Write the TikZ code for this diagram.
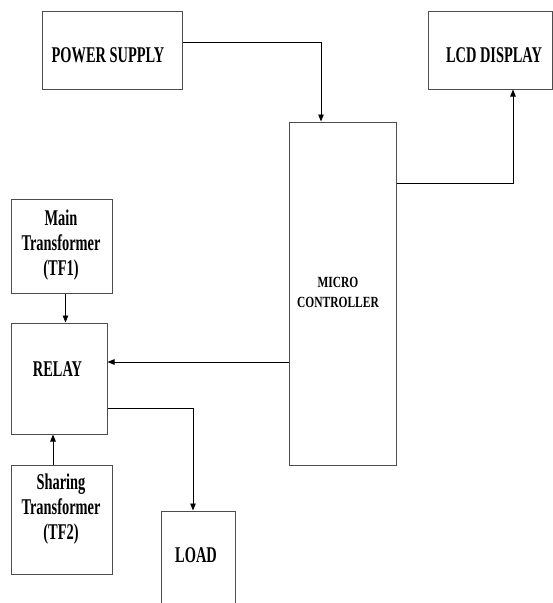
\documentclass[tikz,border=0pt]{standalone}
\usepackage{fontspec}
\usetikzlibrary{arrows.meta}
\newfontfamily\biglbl{Liberation Serif Bold}[FakeStretch=0.64]
\newfontfamily\smlbl{Liberation Serif Bold}[FakeStretch=0.74]
\begin{document}
\begin{tikzpicture}[x=1pt,y=-1pt,
  box/.style={draw=black!70,line width=1pt,rectangle,inner sep=0pt},
  lbl/.style={align=center,inner sep=0pt,font=\biglbl\fontsize{22.5}{25}\selectfont},
  slbl/.style={align=center,inner sep=0pt,font=\smlbl\fontsize{15.5}{20}\selectfont},
  arr/.style={draw=black,line width=0.9pt,-{Triangle[length=7pt,width=5.5pt]}},
  wire/.style={draw=black,line width=0.9pt}]
\useasboundingbox (0,0) rectangle (553,603);
\clip (0,0) rectangle (553,603);
\fill[white] (0,0) rectangle (553,603);
% boxes
\node[box,minimum width=140pt,minimum height=78pt] (ps) at (112,50) {};
\node[box,minimum width=124pt,minimum height=78pt] (lcd) at (490,50) {};
\node[box,minimum width=107pt,minimum height=343pt] (micro) at (342.5,293.5) {};
\node[box,minimum width=101pt,minimum height=94pt] (tf1) at (61.5,246) {};
\node[box,minimum width=96pt,minimum height=111pt] (relay) at (59,378.5) {};
\node[box,minimum width=101pt,minimum height=109pt] (tf2) at (61.5,519.5) {};
\node[box,minimum width=74pt,minimum height=129pt] (load) at (198,575.5) {};
% labels
\node[lbl] (psT) at (108,55) {POWER SUPPLY};
\node[lbl] (lcdT) at (494,55) {LCD DISPLAY};
\node[slbl] (microT) at (338,292) {MICRO\\CONTROLLER};
\node[lbl] (tf1T) at (61,245) {Main\\Transformer\\(TF1)};
\node[lbl] (relayT) at (57.5,369) {RELAY};
\node[lbl] (tf2T) at (61,509) {Sharing\\Transformer\\(TF2)};
\node[lbl] (loadT) at (196,555) {LOAD};
% connectors
\draw[arr] ([yshift=8pt]ps.east) -| ([xshift=-21.5pt]micro.north);
\draw[arr] ([yshift=110.5pt]micro.east) -| ([xshift=23pt]lcd.south);
\coordinate (m2r) at ([yshift=-68.5pt]micro.west);
\draw[arr] (m2r) -- (relay.east |- m2r);
\draw[arr] ([xshift=4pt]tf1.south) -- ([xshift=4pt]tf1.south |- relay.north);
\draw[arr] ([xshift=-8.5pt]tf2.north) -- ([xshift=-8.5pt]tf2.north |- relay.south);
\draw[arr] ([yshift=-29.5pt]relay.east) -| ([xshift=-5pt]load.north);
\end{tikzpicture}
\end{document}
